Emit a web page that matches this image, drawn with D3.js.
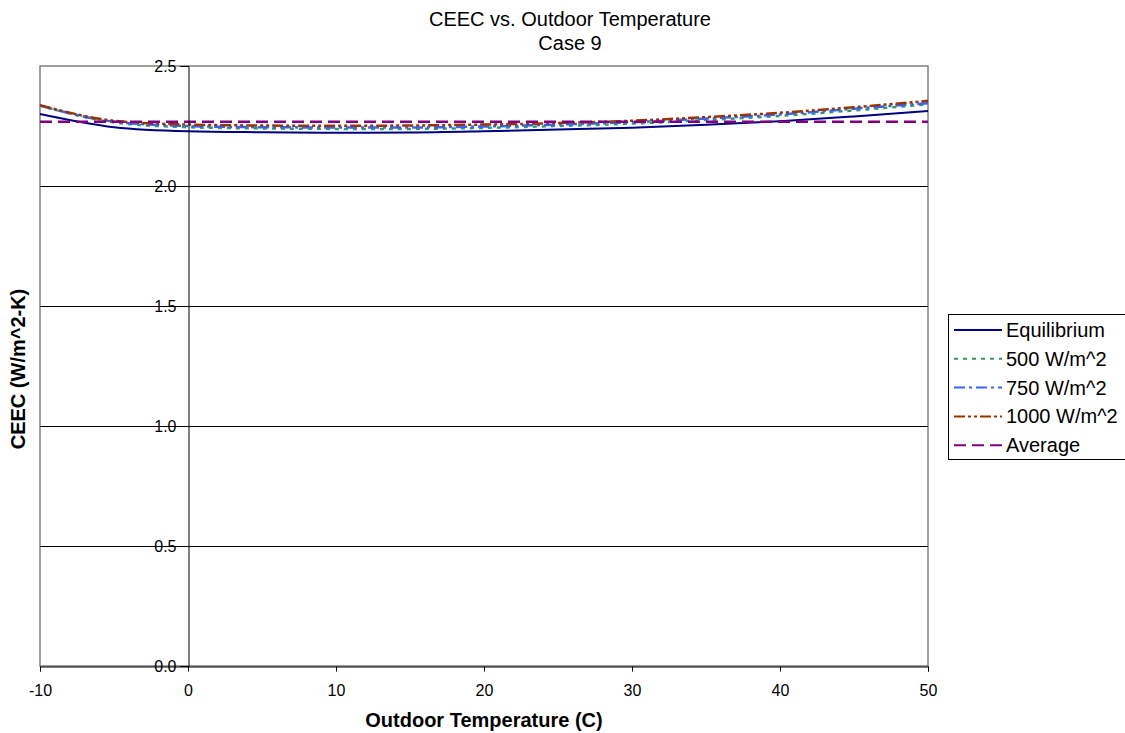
<!DOCTYPE html>
<html>
<head>
<meta charset="utf-8">
<script src="https://cdn.jsdelivr.net/npm/d3@7"></script>
<style>
  body { margin: 0; background: #fff; }
  text { font-family: "Liberation Sans", Arial, sans-serif; }
</style>
</head>
<body>
<svg id="chart"></svg>
<script>
// data
var temps = [-10, -5, 0, 5, 10, 15, 20, 25, 30, 35, 40, 45, 50];
var equilibrium = [2.300, 2.245, 2.228, 2.224, 2.222, 2.223, 2.228, 2.235, 2.243, 2.255, 2.270, 2.290, 2.312];
var w500 = [2.335, 2.265, 2.245, 2.240, 2.238, 2.238, 2.242, 2.250, 2.260, 2.275, 2.292, 2.315, 2.340];
var w750 = [2.335, 2.268, 2.250, 2.245, 2.244, 2.244, 2.248, 2.256, 2.266, 2.281, 2.298, 2.322, 2.345];
var w1000 = [2.337, 2.272, 2.256, 2.252, 2.251, 2.252, 2.256, 2.262, 2.272, 2.287, 2.305, 2.328, 2.355];
var average = [2.268, 2.268, 2.268, 2.268, 2.268, 2.268, 2.268, 2.268, 2.268, 2.268, 2.268, 2.268, 2.268];
var xTicks = [-10, 0, 10, 20, 30, 40, 50];
var yTicks = [0, 0.5, 1.0, 1.5, 2.0, 2.5];

var series = [
  { name: "Equilibrium", values: equilibrium, color: "#000080", dash: null, width: 2 },
  { name: "500 W/m^2", values: w500, color: "#339966", dash: "4,5", width: 2.5 },
  { name: "750 W/m^2", values: w750, color: "#3366ff", dash: "11,4,3,4", width: 2.5 },
  { name: "1000 W/m^2", values: w1000, color: "#993300", dash: "11,3,3,3,3,3", width: 2.5 },
  { name: "Average", values: average, color: "#800080", dash: "12,6", width: 2.5 }
];

var W = 1125, H = 733;
var plotLeft = 40, plotRight = 928, plotTop = 66, plotBottom = 666;

var svg = d3.select("#chart")
  .attr("width", W)
  .attr("height", H);

var x = d3.scaleLinear().domain([-10, 50]).range([plotLeft, plotRight]);
var y = d3.scaleLinear().domain([0, 2.5]).range([plotBottom, plotTop]);

// frame (grey)
svg.append("rect")
  .attr("x", plotLeft).attr("y", plotTop)
  .attr("width", plotRight - plotLeft).attr("height", plotBottom - plotTop)
  .attr("fill", "none")
  .attr("stroke", "#808080")
  .attr("stroke-width", 1.5);

// gridlines
svg.append("g")
  .selectAll("line")
  .data(yTicks.filter(d => d > 0 && d < 2.5))
  .enter().append("line")
  .attr("x1", plotLeft).attr("x2", plotRight)
  .attr("y1", d => Math.round(y(d)) + 0.5)
  .attr("y2", d => Math.round(y(d)) + 0.5)
  .attr("stroke", "#000")
  .attr("stroke-width", 1);

// lines
var line = d3.line()
  .x((d, i) => x(temps[i]))
  .y(d => y(d))
  .curve(d3.curveMonotoneX);

svg.append("g")
  .selectAll("path")
  .data(series)
  .enter().append("path")
  .attr("d", d => line(d.values))
  .attr("fill", "none")
  .attr("stroke", d => d.color)
  .attr("stroke-width", d => d.width)
  .attr("stroke-dasharray", d => d.dash);

// x axis
var xAxis = svg.append("g")
  .attr("transform", "translate(0," + (plotBottom + 0.5) + ")")
  .call(d3.axisBottom(x).tickValues(xTicks).tickSize(5).tickPadding(13).tickFormat(d => String(d)));
xAxis.select(".domain").attr("stroke", "#000");
xAxis.selectAll("text").style("font-size", "16px").style("font-family", "Liberation Sans, Arial, sans-serif");

// y axis sits at x = 0
var yAxis = svg.append("g")
  .attr("transform", "translate(" + (Math.round(x(0)) + 0.5) + ",0)")
  .call(d3.axisLeft(y).tickValues(yTicks).tickSize(8).tickPadding(4).tickFormat(d3.format(".1f")));
yAxis.select(".domain").attr("stroke", "#000");
yAxis.selectAll("text").style("font-size", "16px").style("font-family", "Liberation Sans, Arial, sans-serif");

// titles
svg.append("text")
  .attr("x", 570).attr("y", 26)
  .attr("text-anchor", "middle")
  .style("font-size", "20px")
  .text("CEEC vs. Outdoor Temperature");
svg.append("text")
  .attr("x", 570).attr("y", 50)
  .attr("text-anchor", "middle")
  .style("font-size", "20px")
  .text("Case 9");

svg.append("text")
  .attr("x", (plotLeft + plotRight) / 2).attr("y", 727)
  .attr("text-anchor", "middle")
  .style("font-size", "20px")
  .style("font-weight", "bold")
  .text("Outdoor Temperature (C)");

svg.append("text")
  .attr("transform", "translate(25,369) rotate(-90)")
  .attr("text-anchor", "middle")
  .style("font-size", "20px")
  .style("font-weight", "bold")
  .text("CEEC (W/m^2-K)");

// legend
var legend = svg.append("g");
legend.append("rect")
  .attr("x", 948.5).attr("y", 314.5)
  .attr("width", 180).attr("height", 145)
  .attr("fill", "#fff")
  .attr("stroke", "#000")
  .attr("stroke-width", 1);

var items = legend.selectAll("g.item")
  .data(series)
  .enter().append("g")
  .attr("transform", (d, i) => "translate(0," + (330 + i * 28.8) + ")");
items.append("line")
  .attr("x1", 954).attr("x2", 1002)
  .attr("stroke", d => d.color)
  .attr("stroke-width", 2)
  .attr("stroke-dasharray", d => d.dash);
items.append("text")
  .attr("x", 1006).attr("y", 7)
  .style("font-size", "20px")
  .text(d => d.name);
</script>
</body>
</html>
